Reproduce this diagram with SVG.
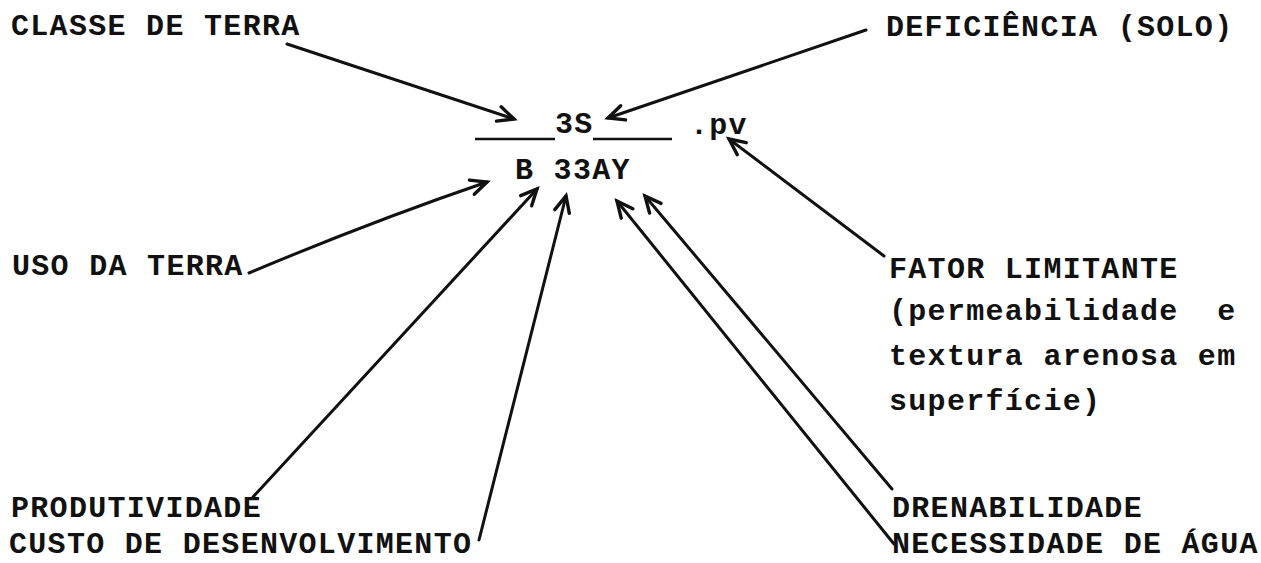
<svg xmlns="http://www.w3.org/2000/svg" width="1261" height="563" viewBox="0 0 1261 563">
<style>
  .t { font-family: "Liberation Mono", "DejaVu Sans Mono", monospace; font-size: 30px; font-weight: bold; letter-spacing: 1.3px; fill: #111; white-space: pre; }
  .c { stroke: #111; stroke-width: 3; fill: none; stroke-linecap: round; }
  .u { stroke: #111; stroke-width: 2.6; }
</style>
<defs>
  <marker id="ah" markerUnits="userSpaceOnUse" markerWidth="20" markerHeight="20" refX="0" refY="0" orient="auto" overflow="visible">
    <path d="M-16,-7.5 L0,0 L-16,7.5" fill="none" stroke="#111" stroke-width="3.4" stroke-linecap="round" stroke-linejoin="miter"/>
  </marker>
</defs>
<rect width="1261" height="563" fill="#fff"/>

<g id="symbol">
  <text class="t" x="555" y="133">3S</text>
  <line class="u" x1="475" y1="139" x2="555" y2="139"/>
  <line class="u" x1="593" y1="139" x2="672" y2="139"/>
  <text class="t" x="690" y="134">.pv</text>
  <text class="t" x="515" y="179">B 33AY</text>
</g>

<g id="classe-de-terra"><text class="t" x="11" y="35">CLASSE DE TERRA</text></g>
<g id="deficiencia"><text class="t" x="886" y="36">DEFICIÊNCIA (SOLO)</text></g>
<g id="uso-da-terra"><text class="t" x="12" y="275">USO DA TERRA</text></g>
<g id="fator-limitante">
  <text class="t" x="889" y="278">FATOR LIMITANTE</text>
  <text class="t" x="889" y="320">(permeabilidade  e</text>
  <text class="t" x="889" y="365">textura arenosa em</text>
  <text class="t" x="889" y="410">superfície)</text>
</g>
<g id="produtividade"><text class="t" x="11" y="517">PRODUTIVIDADE</text></g>
<g id="custo"><text class="t" x="9" y="553">CUSTO DE DESENVOLVIMENTO</text></g>
<g id="drenabilidade"><text class="t" x="892" y="517">DRENABILIDADE</text></g>
<g id="necessidade"><text class="t" x="892" y="553">NECESSIDADE DE ÁGUA</text></g>

<g id="connectors">
  <path class="c" d="M287,44 L514,119" marker-end="url(#ah)"/>
  <path class="c" d="M866,30 L608,118" marker-end="url(#ah)"/>
  <path class="c" d="M884,256 L729,139" marker-end="url(#ah)"/>
  <path class="c" d="M249,273 Q370,222 487,182" marker-end="url(#ah)"/>
  <path class="c" d="M253,497 L537,189" marker-end="url(#ah)"/>
  <path class="c" d="M479,540 L566,196" marker-end="url(#ah)"/>
  <path class="c" d="M892,489 L645,196" marker-end="url(#ah)"/>
  <path class="c" d="M894,544 L617,201" marker-end="url(#ah)"/>
</g>
</svg>
